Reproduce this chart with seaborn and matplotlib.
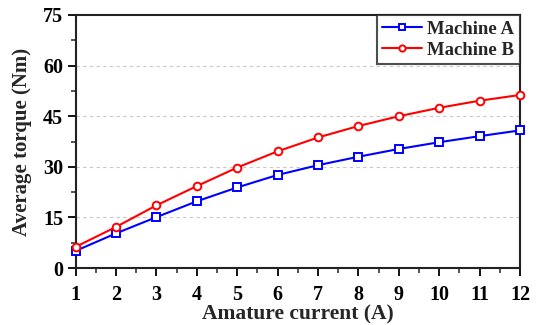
import numpy as np
import pandas as pd
import matplotlib
matplotlib.use("Agg")
import matplotlib.pyplot as plt
import seaborn as sns
from matplotlib.ticker import MultipleLocator

current = [1, 2, 3, 4, 5, 6, 7, 8, 9, 10, 11, 12]
torque_a = [5.1, 10.3, 15.1, 19.8, 23.9, 27.6, 30.5, 33.0, 35.3, 37.3, 39.1, 40.8]
torque_b = [6.3, 12.2, 18.6, 24.3, 29.8, 34.6, 38.7, 42.1, 45.0, 47.5, 49.6, 51.3]
series_names = ["Machine A", "Machine B"]

df = pd.DataFrame({
    "current": current * 2,
    "torque": torque_a + torque_b,
    "machine": [series_names[0]] * len(current) + [series_names[1]] * len(current),
})

sns.set_style("ticks")
plt.rcParams["font.family"] = ["Liberation Serif", "DejaVu Serif"]
plt.rcParams["font.weight"] = "bold"

fig, ax = plt.subplots(figsize=(5.44, 3.25), dpi=100)
fig.subplots_adjust(left=0.139, right=0.956, top=0.954, bottom=0.175)

palette = {"Machine A": "#0000ff", "Machine B": "#ff0000"}
markers = {"Machine A": "s", "Machine B": "o"}
sns.lineplot(data=df, x="current", y="torque", hue="machine", style="machine",
             palette=palette, markers=markers, dashes=False, linewidth=1.5,
             markersize=5.5, markerfacecolor="white", markeredgewidth=1.4, ax=ax)
for line in ax.lines:
    line.set_markeredgecolor(line.get_color())
    line.set_markerfacecolor("white")
    line.set_clip_on(False)
    line.set_zorder(5)

ax.set_xlim(1, 12)
ax.set_ylim(0, 75)
ax.set_xticks(current)
ax.xaxis.set_minor_locator(MultipleLocator(0.5))
ax.yaxis.set_major_locator(MultipleLocator(15))
ax.yaxis.set_minor_locator(MultipleLocator(7.5))
ax.tick_params(axis="both", which="major", direction="out", length=6, width=1.3,
               labelsize=14.5, colors="black")
ax.tick_params(axis="x", which="major", pad=6)
ax.tick_params(axis="y", which="major", pad=3)
ax.tick_params(axis="both", which="minor", direction="out", length=3.5, width=1.1)
for lbl in ax.get_xticklabels() + ax.get_yticklabels():
    lbl.set_fontweight("bold")

for y in [15, 30, 45, 60]:
    ax.axhline(y, color="#c8c8c8", linestyle=(0, (3, 3)), linewidth=0.8, zorder=0)

for sp in ax.spines.values():
    sp.set_linewidth(1.5)
    sp.set_color("#222222")

ax.set_xlabel("Amature current (A)", fontsize=15.5, fontweight="bold", labelpad=0)
ax.set_ylabel("Average torque (Nm)", fontsize=15, fontweight="bold", labelpad=8)

handles, labels = ax.get_legend_handles_labels()
leg = ax.legend(handles, labels, loc="upper right", frameon=True,
                fancybox=False, edgecolor="#222222", borderpad=0.3,
                handlelength=2.1, handletextpad=0.3, labelspacing=0.2,
                borderaxespad=0.0, prop={"weight": "bold", "size": 13.5})
leg.get_frame().set_linewidth(1.5)
for h in leg.get_lines():
    h.set_markersize(4.5)

fig.savefig("out.png", dpi=100)
